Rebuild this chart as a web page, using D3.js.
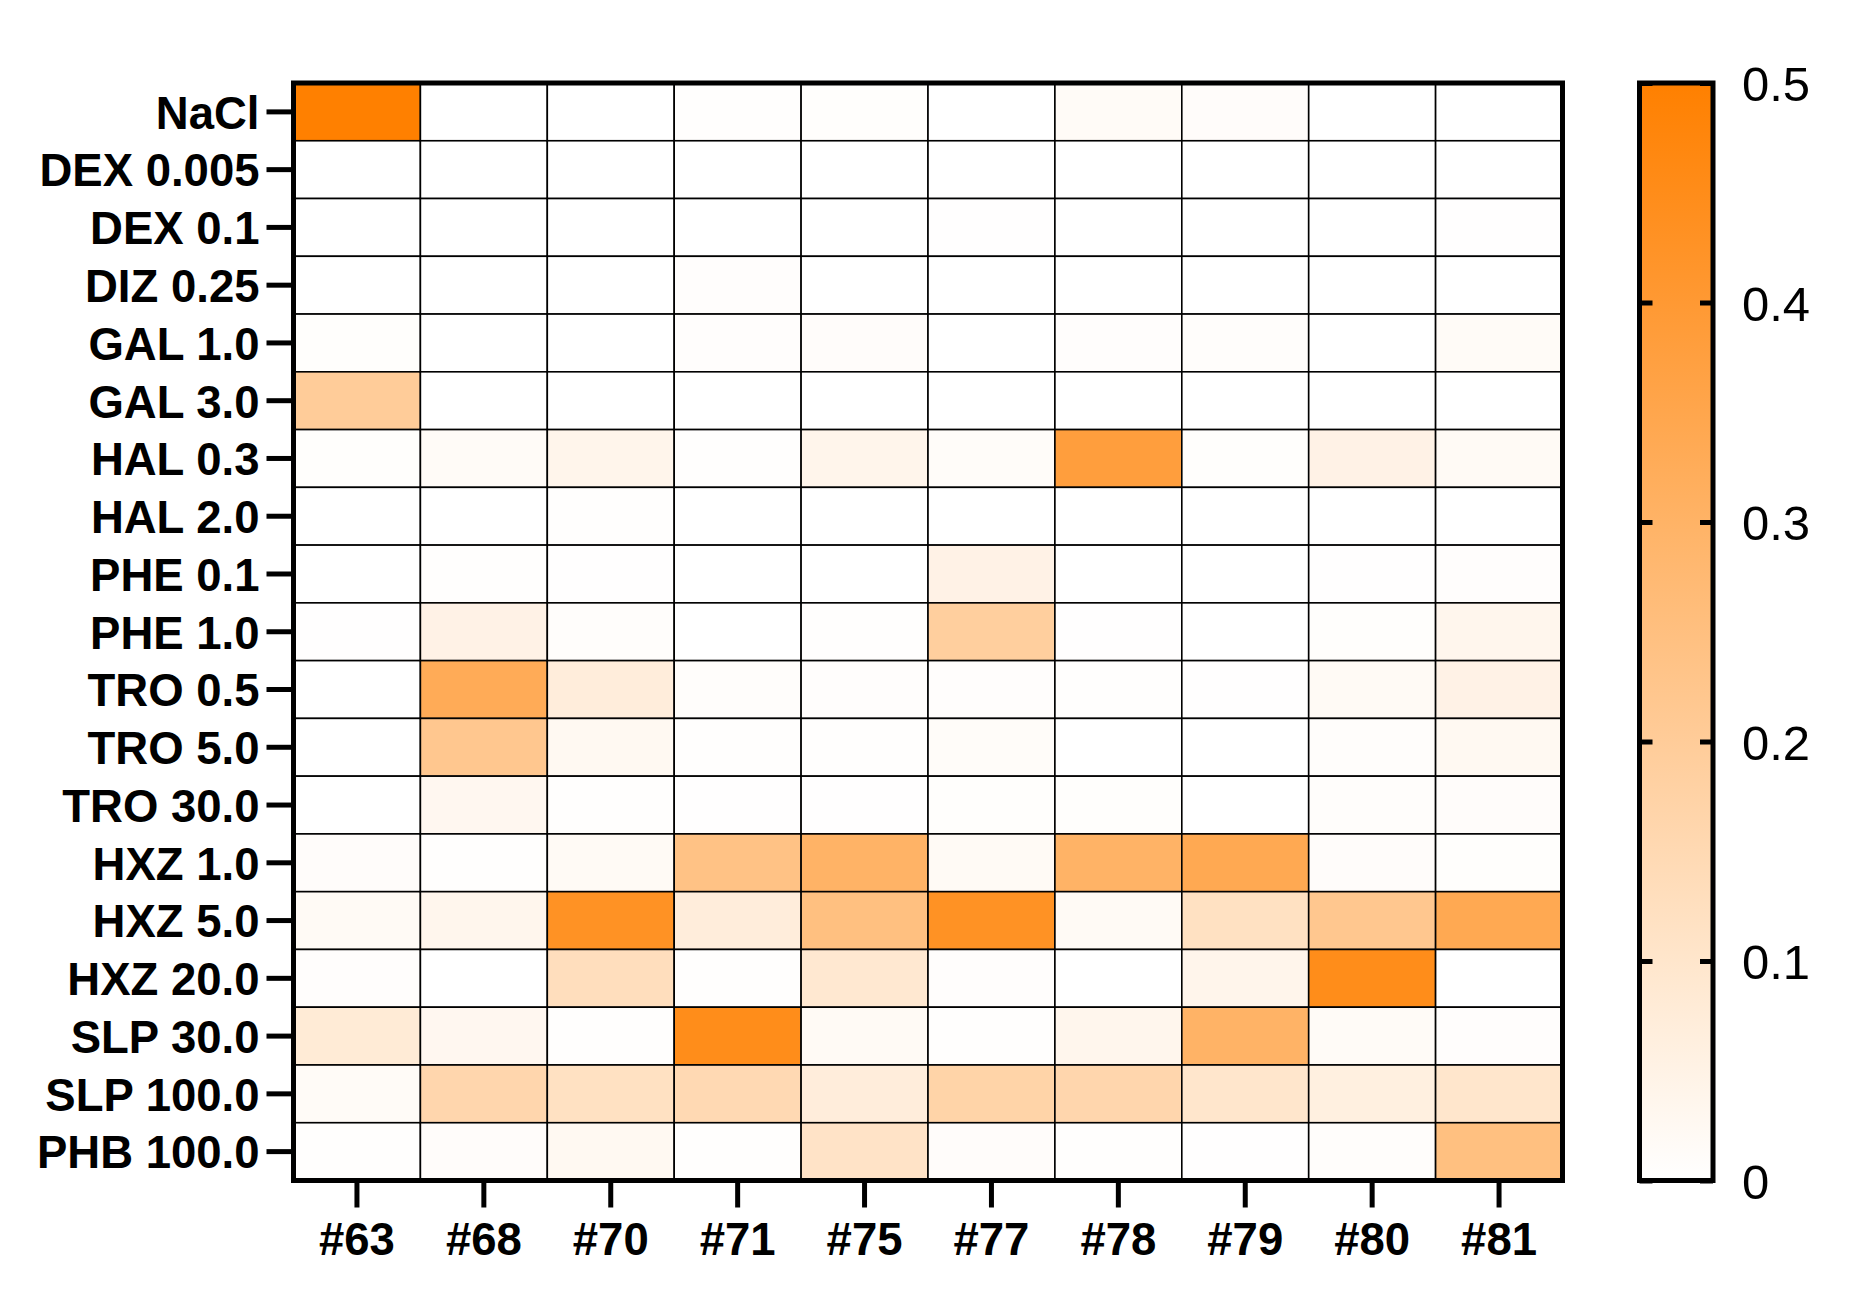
<!DOCTYPE html>
<html>
<head>
<meta charset="utf-8">
<script src="https://cdn.jsdelivr.net/npm/d3@7"></script>
<style>
  body { margin: 0; background: #fff; }
  svg { display: block; }
  text { font-family: 'Liberation Sans', Arial, Helvetica, sans-serif; }
</style>
</head>
<body>
<div id="heatmap"></div>
<script>
const rowNames = ['NaCl', 'DEX 0.005', 'DEX 0.1', 'DIZ 0.25', 'GAL 1.0', 'GAL 3.0',
  'HAL 0.3', 'HAL 2.0', 'PHE 0.1', 'PHE 1.0', 'TRO 0.5', 'TRO 5.0', 'TRO 30.0',
  'HXZ 1.0', 'HXZ 5.0', 'HXZ 20.0', 'SLP 30.0', 'SLP 100.0', 'PHB 100.0']

const colNames = ['#63', '#68', '#70', '#71', '#75', '#77', '#78', '#79', '#80', '#81']

// one array per column, values top row to bottom row
const c63 = [0.5, 0, 0, 0, 0.005, 0.2, 0.005, 0, 0, 0.002, 0, 0, 0, 0.01, 0.02, 0.006, 0.08, 0.015, 0.004]
const c68 = [0, 0, 0, 0, 0, 0, 0.015, 0, 0.004, 0.05, 0.33, 0.22, 0.03, 0.003, 0.035, 0, 0.03, 0.16, 0.01]
const c70 = [0, 0, 0, 0, 0, 0, 0.04, 0.003, 0.002, 0.008, 0.07, 0.025, 0.004, 0.02, 0.43, 0.13, 0.004, 0.12, 0.025]
const c71 = [0.003, 0, 0, 0.006, 0.006, 0, 0.004, 0, 0, 0, 0.008, 0.004, 0.002, 0.24, 0.07, 0.004, 0.45, 0.15, 0.003]
const c75 = [0.005, 0, 0, 0, 0.01, 0, 0.04, 0, 0, 0.004, 0.006, 0.004, 0.002, 0.3, 0.25, 0.09, 0.02, 0.07, 0.11]
const c77 = [0, 0, 0.002, 0, 0, 0, 0.012, 0, 0.05, 0.19, 0.006, 0.012, 0.005, 0.02, 0.43, 0.006, 0.003, 0.17, 0.01]
const c78 = [0.015, 0, 0, 0, 0.006, 0, 0.38, 0, 0, 0.002, 0.003, 0, 0.005, 0.3, 0.02, 0, 0.035, 0.16, 0.003]
const c79 = [0.01, 0, 0, 0, 0.008, 0, 0.005, 0, 0, 0, 0.002, 0, 0, 0.34, 0.12, 0.04, 0.3, 0.1, 0.002]
const c80 = [0, 0, 0, 0, 0, 0, 0.05, 0, 0.002, 0.005, 0.02, 0.008, 0.008, 0.01, 0.22, 0.45, 0.015, 0.06, 0.008]
const c81 = [0, 0, 0.002, 0, 0.015, 0, 0.02, 0, 0.006, 0.035, 0.05, 0.025, 0.01, 0.005, 0.34, 0, 0.006, 0.1, 0.25]

const colorTicks = [0, 0.1, 0.2, 0.3, 0.4, 0.5]
const colorTickLabels = ['0', '0.1', '0.2', '0.3', '0.4', '0.5']

const columns = [c63, c68, c70, c71, c75, c77, c78, c79, c80, c81]

const cells = []
columns.forEach((vals, ci) => {
  vals.forEach((v, ri) => {
    cells.push({ col: colNames[ci], row: rowNames[ri], value: v })
  })
})

const W = 1856
const H = 1304
const plot = { left: 293.5, right: 1562.5, top: 83, bottom: 1180.5 }
const bar = { left: 1639.5, right: 1713, top: 83, bottom: 1180.5 }

const svg = d3
  .select('#heatmap')
  .append('svg')
  .attr('width', W)
  .attr('height', H)

const xPositionScale = d3.scaleBand()
  .domain(colNames)
  .range([plot.left, plot.right])

const yPositionScale = d3.scaleBand()
  .domain(rowNames)
  .range([plot.top, plot.bottom])

const colorScale = d3.scaleLinear()
  .domain([0, 0.5])
  .range(['#ffffff', '#ff8000'])
  .clamp(true)

// cells
svg.append('g')
  .selectAll('rect')
  .data(cells)
  .enter()
  .append('rect')
  .attr('x', d => xPositionScale(d.col))
  .attr('y', d => yPositionScale(d.row))
  .attr('width', xPositionScale.bandwidth())
  .attr('height', yPositionScale.bandwidth())
  .attr('fill', d => colorScale(d.value))
  .attr('stroke', '#000')
  .attr('stroke-width', 1.6)

// frame
svg.append('rect')
  .attr('x', plot.left)
  .attr('y', plot.top)
  .attr('width', plot.right - plot.left)
  .attr('height', plot.bottom - plot.top)
  .attr('fill', 'none')
  .attr('stroke', '#000')
  .attr('stroke-width', 5)

// y axis
const yAxis = d3.axisLeft(yPositionScale).tickSize(27).tickPadding(7)
svg.append('g')
  .attr('class', 'axis y-axis')
  .attr('transform', `translate(${plot.left},0)`)
  .call(yAxis)
svg.select('.y-axis .domain').remove()
svg.selectAll('.y-axis text').attr('dy', '0.37em')

// x axis
const xAxis = d3.axisBottom(xPositionScale).tickSize(27).tickPadding(15)
svg.append('g')
  .attr('class', 'axis x-axis')
  .attr('transform', `translate(0,${plot.bottom})`)
  .call(xAxis)
svg.select('.x-axis .domain').remove()

svg.selectAll('.y-axis line, .x-axis line')
  .attr('stroke', '#000')
  .attr('stroke-width', 5)
svg.selectAll('.y-axis text, .x-axis text')
  .attr('fill', '#000')
  .style('font-size', '45.5px')
  .style('font-weight', 'bold')

// colour bar
const defs = svg.append('defs')
const grad = defs.append('linearGradient')
  .attr('id', 'bar-grad')
  .attr('x1', 0).attr('y1', 1)
  .attr('x2', 0).attr('y2', 0)
grad.selectAll('stop')
  .data(colorTicks)
  .enter()
  .append('stop')
  .attr('offset', d => d / 0.5)
  .attr('stop-color', d => colorScale(d))

const barScale = d3.scaleLinear()
  .domain([0, 0.5])
  .range([bar.bottom, bar.top])

svg.append('rect')
  .attr('x', bar.left)
  .attr('y', bar.top)
  .attr('width', bar.right - bar.left)
  .attr('height', bar.bottom - bar.top)
  .attr('fill', 'url(#bar-grad)')

const barRight = d3.axisRight(barScale)
  .tickValues(colorTicks)
  .tickFormat((d, i) => colorTickLabels[i])
  .tickSize(-13)
  .tickPadding(29)
svg.append('g')
  .attr('class', 'axis bar-right')
  .attr('transform', `translate(${bar.right},0)`)
  .call(barRight)

const barLeft = d3.axisLeft(barScale)
  .tickValues(colorTicks)
  .tickFormat('')
  .tickSize(-13)
svg.append('g')
  .attr('class', 'axis bar-left')
  .attr('transform', `translate(${bar.left},0)`)
  .call(barLeft)

svg.selectAll('.bar-right .domain, .bar-left .domain').remove()
svg.selectAll('.bar-right line, .bar-left line')
  .attr('stroke', '#000')
  .attr('stroke-width', 5)
svg.selectAll('.bar-right text')
  .attr('fill', '#000')
  .attr('dy', '0.36em')
  .style('font-size', '49px')

svg.append('rect')
  .attr('x', bar.left)
  .attr('y', bar.top)
  .attr('width', bar.right - bar.left)
  .attr('height', bar.bottom - bar.top)
  .attr('fill', 'none')
  .attr('stroke', '#000')
  .attr('stroke-width', 5)
</script>
</body>
</html>
